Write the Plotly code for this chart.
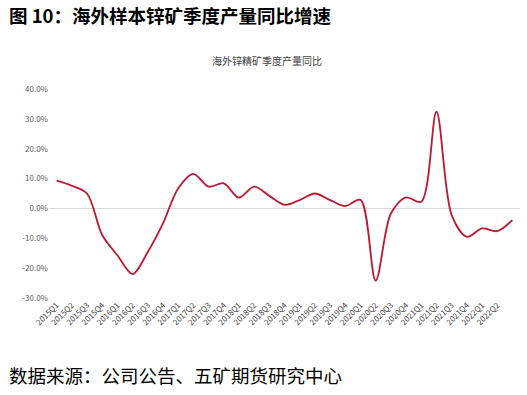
import plotly.graph_objects as go

categories = ["2015Q1","2015Q2","2015Q3","2015Q4","2016Q1","2016Q2","2016Q3","2016Q4",
              "2017Q1","2017Q2","2017Q3","2017Q4","2018Q1","2018Q2","2018Q3","2018Q4",
              "2019Q1","2019Q2","2019Q3","2019Q4","2020Q1","2020Q2","2020Q3","2020Q4",
              "2021Q1","2021Q2","2021Q3","2021Q4","2022Q1","2022Q2","2022Q3"]
yoy_pct = [9.3, 7.6, 5.0, -8.9, -15.7, -22.0, -14.6, -5.0,
           6.7, 11.6, 7.3, 8.4, 3.6, 7.3, 4.2, 1.2,
           2.8, 5.0, 2.8, 0.8, 2.9, -24.2, -1.7, 3.7,
           2.2, 32.4, -2.2, -9.5, -6.7, -7.6, -3.9]
x_tick_labels = categories[:30]
y_ticks = [-30, -20, -10, 0, 10, 20, 30, 40]
y_tick_text = ["-30.0%", "-20.0%", "-10.0%", "0.0%", "10.0%", "20.0%", "30.0%", "40.0%"]

CJK = "Noto Sans CJK SC"
W, H = 527, 395
L, R, T, B = 49, 7, 89, 97
pw, ph = W - L - R, H - T - B

def px(x):
    return (x - L) / pw

def py(y):
    return (H - B - y) / ph

fig = go.Figure()
fig.add_trace(go.Scatter(
    x=categories, y=yoy_pct, mode="lines",
    line=dict(color="#BE1730", width=1.8, shape="spline", smoothing=0.9),
    showlegend=False, hoverinfo="x+y"))

fig.update_layout(
    width=W, height=H, autosize=False,
    margin=dict(l=L, r=R, t=T, b=B, pad=0),
    paper_bgcolor="white", plot_bgcolor="white",
    font=dict(family=CJK, color="#595959", size=8),
    xaxis=dict(type="category", tickmode="array", tickvals=x_tick_labels,
               ticktext=x_tick_labels, tickangle=-45, showgrid=False,
               showline=False, ticks="", tickfont=dict(size=8, color="#404040"),
               range=[-0.5, len(categories) - 0.5]),
    yaxis=dict(range=[-30, 40], tickmode="array", tickvals=y_ticks, ticktext=y_tick_text,
               showgrid=False, zeroline=True, zerolinecolor="#D9D9D9", zerolinewidth=1,
               showline=False, ticks="", tickfont=dict(size=8, color="#595959")),
    annotations=[
        dict(text="<b>图 10：海外样本锌矿季度产量同比增速</b>", xref="paper", yref="paper",
             x=px(7), y=py(15), xanchor="left", yanchor="middle", showarrow=False,
             font=dict(family=CJK, size=18.5, color="#000000")),
        dict(text="海外锌精矿季度产量同比", xref="paper", yref="paper",
             x=px(267), y=py(61), xanchor="center", yanchor="middle", showarrow=False,
             font=dict(family=CJK, size=10, color="#404040")),
        dict(text="数据来源：公司公告、五矿期货研究中心", xref="paper", yref="paper",
             x=px(7), y=py(375), xanchor="left", yanchor="middle", showarrow=False,
             font=dict(family=CJK, size=18.5, color="#000000")),
    ],
)

fig.write_html("out.html", config={"displayModeBar": False},
               post_script="document.body.style.margin='0';document.body.style.padding='0';")
